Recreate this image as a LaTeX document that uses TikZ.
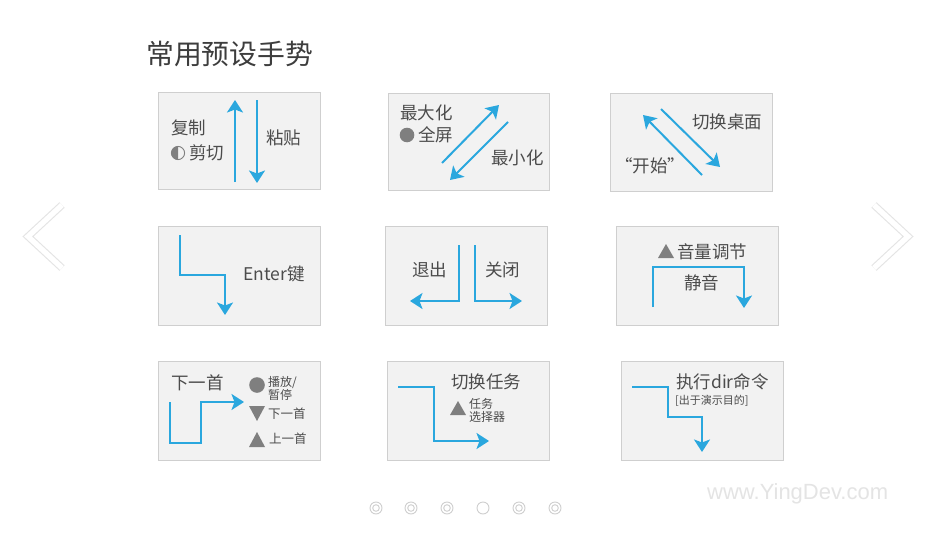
\documentclass[tikz,border=0pt]{standalone}
\usepackage{fontspec}
\setmainfont{Liberation Sans}
\newfontfamily\cjk{Noto Sans CJK SC}
\usetikzlibrary{arrows.meta}
\definecolor{boxfill}{HTML}{F2F2F2}
\definecolor{boxline}{HTML}{CFCFCF}
\definecolor{ablue}{HTML}{2AA7DE}
\definecolor{txt}{HTML}{4C4C4C}
\definecolor{sym}{HTML}{7F7F7F}
\definecolor{faint}{HTML}{E4E4E4}
\tikzset{
  panel/.style={draw=boxline, fill=boxfill, line width=0.8pt},
  gest/.style={draw=ablue, line width=2pt, line join=miter,
    -{Stealth[length=12.5pt,width=16pt,inset=3pt]}},
  lbl/.style={text=txt, font=\cjk\fontsize{17.5}{20}\selectfont, inner sep=0pt, anchor=west},
  small/.style={text=txt, font=\cjk\fontsize{12}{14}\selectfont, inner sep=0pt, anchor=west, align=left},
  tiny/.style={text=txt, font=\cjk\fontsize{11}{13}\selectfont, inner sep=0pt, anchor=west, align=left},
  chev/.style={line width=7.5pt, draw=faint, line join=miter},
  chevin/.style={line width=5.3pt, draw=white, line join=miter},
  dot/.style={draw=boxline, line width=0.9pt, fill=white},
}
\begin{document}
\begin{tikzpicture}[x=1pt,y=-1pt]
\useasboundingbox (0,0) rectangle (936,535);
\fill[white] (0,0) rectangle (936,535);

% title
\node[text=txt!80!black, font=\cjk\fontsize{27.8}{32}\selectfont, inner sep=0pt, anchor=west] (title) at (146,54) {常用预设手势};

% panels
\draw[panel] (158,92) rectangle (320,189);
\draw[panel] (388,93) rectangle (549,190);
\draw[panel] (610,93) rectangle (772,191);
\draw[panel] (158,226) rectangle (320,325);
\draw[panel] (385,226) rectangle (547,325);
\draw[panel] (616,226) rectangle (778,325);
\draw[panel] (158,361) rectangle (320,460);
\draw[panel] (387,361) rectangle (549,460);
\draw[panel] (621,361) rectangle (783,460);

% panel 1: copy / cut / paste
\draw[gest] (235,182) -- (235,100);
\draw[gest] (257,100) -- (257,183);
\node[lbl] (copy) at (171,128) {复制};
\fill[sym] (178,146.4) arc[start angle=270, end angle=90, radius=6.6] -- cycle;
\draw[sym, line width=0.9pt] (178,153) circle (6.6);
\node[lbl] (cut) at (189,153) {剪切};
\node[lbl] (paste) at (266,138) {粘贴};

% panel 2: maximize / minimize
\draw[gest] (442,163) -- (499,105);
\draw[gest] (508,122) -- (450,180);
\node[lbl] (max) at (400,113) {最大化};
\fill[sym] (407,135) circle (7.3);
\node[lbl] (full) at (418,135) {全屏};
\node[lbl] (min) at (491,158) {最小化};

% panel 3: switch desktop / start
\draw[gest] (702,175) -- (643,115);
\draw[gest] (661,109) -- (720,167);
\node[lbl] (switch) at (692,122) {切换桌面};
\node[lbl] (start) at (615,166) {“开始”};

% panel 4: Enter
\draw[gest] (180,235) -- (180,275) -- (225,275) -- (225,315);
\node[lbl] (enter) at (243,274) {Enter键};

% panel 5: exit / close
\draw[gest] (459,245) -- (459,301) -- (410,301);
\draw[gest] (475,245) -- (475,301) -- (522,301);
\node[lbl] (exit) at (412,270) {退出};
\node[lbl] (close) at (485,270) {关闭};

% panel 6: volume / mute
\draw[gest] (653,307) -- (653,267) -- (744,267) -- (744,308);
\fill[sym] (658,258) -- (674,258) -- (666,244) -- cycle;
\node[lbl] (vol) at (677,252) {音量调节};
\node[lbl] (mute) at (684,283) {静音};

% panel 7: next / media
\draw[gest] (170,402) -- (170,443) -- (201,443) -- (201,402) -- (244,402);
\node[lbl] (next) at (171,383) {下一首};
\fill[sym] (257,385) circle (7.8);
\node[small] (play) at (268,388) {播放/\\[-1pt]暂停};
\fill[sym] (249,406) -- (265,406) -- (257,421) -- cycle;
\node[small, font=\cjk\fontsize{12.5}{14}\selectfont] (next2) at (268,414) {下一首};
\fill[sym] (249,447) -- (265,447) -- (257,432) -- cycle;
\node[small, font=\cjk\fontsize{12.5}{14}\selectfont] (prev) at (269,439) {上一首};

% panel 8: task switch
\draw[gest] (398,387) -- (434,387) -- (434,441) -- (489,441);
\node[lbl] (task) at (451,382) {切换任务};
\fill[sym] (450,415) -- (466,415) -- (458,401) -- cycle;
\node[small] (tasksel) at (469,410) {任务\\[-1pt]选择器};

% panel 9: dir
\draw[gest] (632,387) -- (668,387) -- (668,417) -- (702,417) -- (702,452);
\node[lbl] (dir) at (676,382) {执行dir命令};
\node[tiny] (demo) at (675,401) {[出于演示目的]};

% chevrons
\draw[chev] (62,205) -- (28,236.5) -- (62,268);
\draw[chevin] (62,205) -- (28,236.5) -- (62,268);
\draw[chev] (874,205) -- (908,236.5) -- (874,268);
\draw[chevin] (874,205) -- (908,236.5) -- (874,268);

% pager dots
\foreach \x in {376,411,447,519,555} {
  \draw[dot] (\x,508) circle (6);
  \draw[boxline, line width=0.9pt] (\x,508) circle (3.3);
}
\draw[dot] (483,508) circle (6);

% watermark
\node[text=faint, font=\fontsize{22}{25}\selectfont, inner sep=0pt, anchor=west] (wm) at (707,494) {www.YingDev.com};
\end{tikzpicture}
\end{document}
